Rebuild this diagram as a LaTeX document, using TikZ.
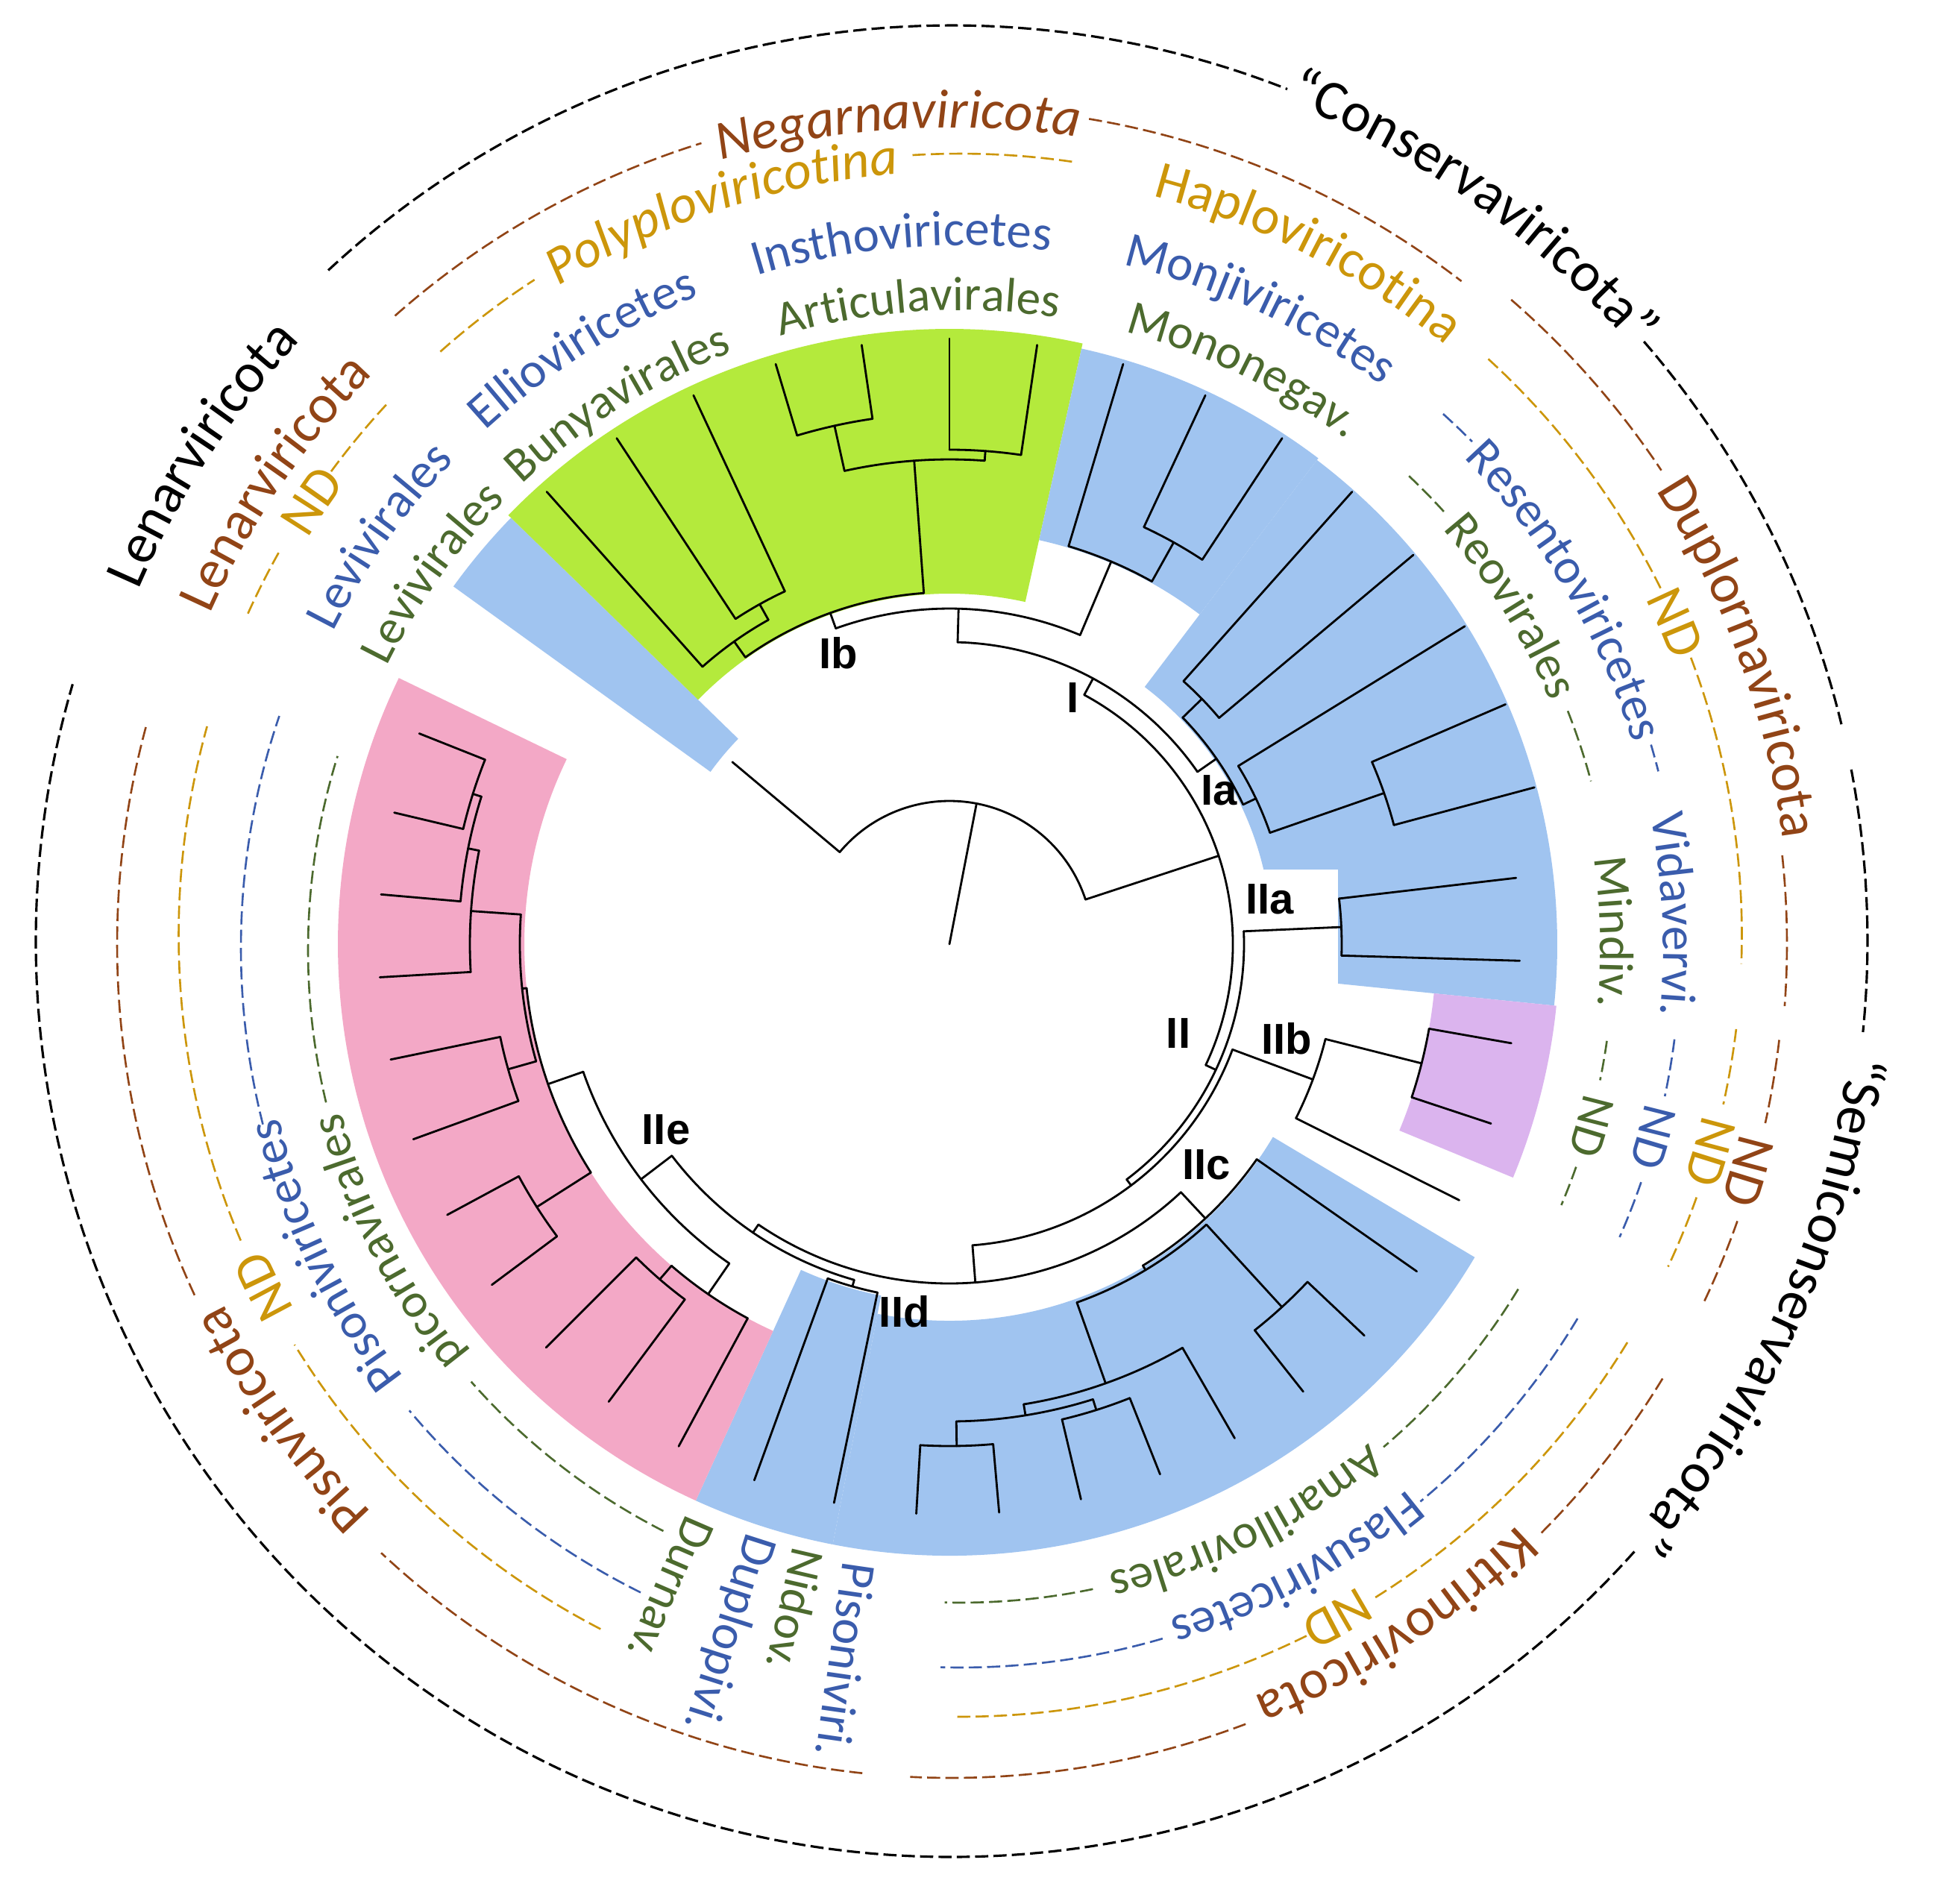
\documentclass[tikz,border=0pt]{standalone}
\usepackage{fontspec}
\setmainfont{Carlito}
\newfontfamily\cladefont{Liberation Sans}
\usetikzlibrary{decorations.text}

\definecolor{cgreen}{RGB}{180,234,60}
\definecolor{cblue}{RGB}{160,196,240}
\definecolor{cpink}{RGB}{243,168,198}
\definecolor{cpurple}{RGB}{219,180,238}
\definecolor{tbrown}{RGB}{145,68,22}
\definecolor{tgold}{RGB}{204,150,10}
\definecolor{tblue}{RGB}{58,92,172}
\definecolor{tgreen}{RGB}{76,106,46}

\newcommand{\fblack}{\fontsize{21.5}{24}\selectfont}
\newcommand{\fbrown}{\fontsize{21}{24}\selectfont}
\newcommand{\fgold}{\fontsize{20.5}{23}\selectfont}
\newcommand{\fblue}{\fontsize{19}{22}\selectfont}
\newcommand{\fgreen}{\fontsize{18.5}{21}\selectfont}

\newcommand{\brarc}[3]{\draw[branch] (#2:#1) arc[start angle=#2,end angle=#3,radius=#1];}
\newcommand{\brray}[3]{\draw[branch] (#1:#2) -- (#1:#3);}
\newcommand{\ringsector}[5]{\fill[#1] (#2:#4) arc[start angle=#2,end angle=#3,radius=#4] -- (#3:#5) arc[start angle=#3,end angle=#2,radius=#5] -- cycle;}
\newcommand{\ringseg}[4]{\draw[#1] (#3:#2) arc[start angle=#3,end angle=#4,radius=#2];}
\newcommand{\ringlabel}[5]{\path[decorate,decoration={text along path,text color=#1,text align=center,text={|#2|#5}}] ({#4+40}:#3) arc[start angle={#4+40},end angle={#4-40},radius=#3];}

\tikzset{
  branch/.style={line width=0.8pt,black,line cap=round},
  blackring/.style={line width=0.9pt,black,dash pattern=on 5pt off 2pt},
  brownring/.style={line width=0.75pt,tbrown,dash pattern=on 5pt off 2pt},
  goldring/.style={line width=0.75pt,tgold,dash pattern=on 5pt off 2pt},
  bluering/.style={line width=0.75pt,tblue,dash pattern=on 5pt off 2pt},
  greenring/.style={line width=0.75pt,tgreen,dash pattern=on 5pt off 2pt},
  clade/.style={font=\cladefont\bfseries\fontsize{16.5}{18}\selectfont,inner sep=0pt},
  radlab/.style={anchor=west,inner sep=0pt}
}

\begin{document}
\begin{tikzpicture}
\useasboundingbox (-12.73,-12.70) rectangle (13.55,12.66);
\fill[white] (-12.73,-12.70) rectangle (13.55,12.66);

% coloured clades
\ringsector{cblue}{144.2}{135.8}{3.95}{8.20}
\ringsector{cgreen}{135.8}{77.5}{4.70}{8.25}
\ringsector{cblue}{77.5}{52.8}{5.55}{8.18}
\ringsector{cblue}{52.8}{-5.8}{4.33}{8.15}
\ringsector{cpurple}{-5.8}{-22.5}{6.53}{8.18}
\ringsector{cblue}{-30.8}{-101}{5.05}{8.20}
\ringsector{cblue}{-101}{-114.5}{4.80}{8.20}
\ringsector{cpink}{-114.5}{-205.8}{5.70}{8.20}
\fill[white] (3.98,1.00) rectangle (5.21,-0.54);

% tree
\brray{79.08}{0}{1.92}
\brarc{1.92}{140}{18.17}
\brray{140}{1.92}{3.80}
\brray{18.17}{1.92}{3.80}
\brarc{3.80}{61.6}{-25.26}
\brray{61.6}{3.80}{4.05}
\brarc{4.05}{88.44}{34.79}
\brray{88.44}{4.05}{4.50}
\brarc{4.50}{109.79}{67.08}
\brray{109.79}{4.50}{4.72}
\brarc{4.72}{125.42}{94.17}
\brray{125.42}{4.72}{4.98}
\brarc{4.98}{131.67}{119.17}
\brray{131.67}{4.98}{8.12}
\brray{119.17}{4.98}{5.22}
\brarc{5.22}{123.33}{115}
\brray{123.33}{5.22}{8.12}
\brray{115}{5.22}{8.12}
\brray{94.17}{4.72}{6.50}
\brarc{6.50}{102.5}{85.83}
\brray{102.5}{6.50}{7.12}
\brarc{7.12}{106.67}{98.33}
\brray{106.67}{7.12}{8.12}
\brray{98.33}{7.12}{8.12}
\brray{85.83}{6.50}{6.63}
\brarc{6.63}{90}{81.67}
\brray{90}{6.63}{8.12}
\brray{81.67}{6.63}{8.12}
\brray{67.08}{4.50}{5.57}
\brarc{5.57}{73.33}{60.83}
\brray{73.33}{5.57}{8.12}
\brray{60.83}{5.57}{6.17}
\brarc{6.17}{65}{56.67}
\brray{65}{6.17}{8.12}
\brray{56.67}{6.17}{8.12}
\brray{34.79}{4.05}{4.36}
\brarc{4.36}{44.17}{25.42}
\brray{44.17}{4.36}{4.72}
\brarc{4.72}{48.33}{40}
\brray{48.33}{4.72}{8.12}
\brray{40}{4.72}{8.12}
\brray{25.42}{4.36}{4.55}
\brarc{4.55}{31.67}{19.17}
\brray{31.67}{4.55}{8.12}
\brray{19.17}{4.55}{6.17}
\brarc{6.17}{23.33}{15}
\brray{23.33}{6.17}{8.12}
\brray{15}{6.17}{8.12}
\brray{-25.26}{3.80}{3.95}
\brarc{3.95}{2.5}{-53.02}
\brray{2.5}{3.95}{5.26}
\brarc{5.26}{6.67}{-1.67}
\brray{6.67}{5.26}{7.65}
\brray{-1.67}{5.26}{7.65}
\brray{-53.02}{3.95}{4.05}
\brarc{4.05}{-20.42}{-85.62}
\brray{-20.42}{4.05}{5.20}
\brarc{5.20}{-14.17}{-26.67}
\brray{-14.17}{5.20}{6.53}
\brarc{6.53}{-10}{-18.33}
\brray{-10}{6.53}{7.65}
\brray{-18.33}{6.53}{7.65}
\brray{-26.67}{5.20}{7.65}
\brray{-85.62}{4.05}{4.55}
\brarc{4.55}{-46.98}{-124.26}
\brray{-46.98}{4.55}{5.03}
\brarc{5.03}{-35}{-58.96}
\brray{-35}{5.03}{7.65}
\brray{-58.96}{5.03}{5.10}
\brarc{5.10}{-47.5}{-70.42}
\brray{-47.5}{5.10}{6.60}
\brarc{6.60}{-43.33}{-51.67}
\brray{-43.33}{6.60}{7.65}
\brray{-51.67}{6.60}{7.65}
\brray{-70.42}{5.10}{6.25}
\brarc{6.25}{-60}{-80.83}
\brray{-60}{6.25}{7.65}
\brray{-80.83}{6.25}{6.40}
\brarc{6.40}{-72.5}{-89.17}
\brray{-72.5}{6.40}{6.55}
\brarc{6.55}{-68.33}{-76.67}
\brray{-68.33}{6.55}{7.65}
\brray{-76.67}{6.55}{7.65}
\brray{-89.17}{6.40}{6.73}
\brarc{6.73}{-85}{-93.33}
\brray{-85}{6.73}{7.65}
\brray{-93.33}{6.73}{7.65}
\brray{-124.26}{4.55}{4.68}
\brarc{4.68}{-105.83}{-142.68}
\brray{-105.83}{4.68}{4.77}
\brarc{4.77}{-101.67}{-110}
\brray{-101.67}{4.77}{7.65}
\brray{-110}{4.77}{7.65}
\brray{-142.68}{4.68}{5.20}
\brarc{5.20}{-124.58}{-160.78}
\brray{-124.58}{5.20}{5.70}
\brarc{5.70}{-118.33}{-130.83}
\brray{-118.33}{5.70}{7.65}
\brray{-130.83}{5.70}{5.94}
\brarc{5.94}{-126.67}{-135}
\brray{-126.67}{5.94}{7.65}
\brray{-135}{5.94}{7.65}
\brray{-160.78}{5.20}{5.70}
\brarc{5.70}{-147.5}{-174.06}
\brray{-147.5}{5.70}{6.56}
\brarc{6.56}{-143.33}{-151.67}
\brray{-143.33}{6.56}{7.65}
\brray{-151.67}{6.56}{7.65}
\brray{-174.06}{5.70}{5.76}
\brarc{5.76}{-164.17}{-183.96}
\brray{-164.17}{5.76}{6.15}
\brarc{6.15}{-160}{-168.33}
\brray{-160}{6.15}{7.65}
\brray{-168.33}{6.15}{7.65}
\brray{-183.96}{5.76}{6.43}
\brarc{6.43}{-176.67}{-191.25}
\brray{-176.67}{6.43}{7.65}
\brray{-191.25}{6.43}{6.58}
\brarc{6.58}{-185}{-197.5}
\brray{-185}{6.58}{7.65}
\brray{-197.5}{6.58}{6.70}
\brarc{6.70}{-193.33}{-201.67}
\brray{-193.33}{6.70}{7.65}
\brray{-201.67}{6.70}{7.65}

% clade labels
\node[clade] (lIb) at (-1.486,3.90) {Ib};
\node[clade] (lI) at (1.654,3.30) {I};
\node[clade] (lIa) at (3.615,2.065) {Ia};
\node[clade] (lIIa) at (4.294,0.602) {IIa};
\node[clade] (lII) at (3.07,-1.195) {II};
\node[clade] (lIIb) at (4.52,-1.265) {IIb};
\node[clade] (lIIc) at (3.444,-2.957) {IIc};
\node[clade] (lIId) at (-0.602,-4.925) {IId};
\node[clade] (lIIe) at (-3.80,-2.486) {IIe};

% orders
\begin{scope}[shift={(0.15,-0.08)}]
\ringlabel{tgreen}{\fgreen}{8.58}{144.5}{Levivirales}
\ringlabel{tgreen}{\fgreen}{8.58}{122.1}{Bunyavirales}
\ringlabel{tgreen}{\fgreen}{8.58}{93.8}{Articulavirales}
\ringlabel{tgreen}{\fgreen}{8.58}{64}{Mononegav.}
\ringseg{greenring}{8.75}{46.6}{42.2}
\ringlabel{tgreen}{\fgreen}{8.58}{32}{Reovirales}
\ringseg{greenring}{8.75}{21.5}{15}
\ringlabel{tgreen}{\fgreen}{8.58}{1.6}{Mindiv.}
\ringseg{greenring}{8.75}{-8}{-11.5}
\ringlabel{tgreen}{\fgreen}{8.58}{-15.6}{ND}
\ringseg{greenring}{8.75}{-19.4}{-23}
\ringseg{greenring}{8.75}{-31.3}{-49.6}
\ringlabel{tgreen}{\fgreen}{8.58}{-63.5}{Amarillovirales}
\ringseg{greenring}{8.75}{-78.3}{-91.4}
\ringseg{greenring}{8.75}{-117.1}{-138.6}
\ringlabel{tgreen}{\fgreen}{8.58}{-153}{picornavirales}
\ringseg{greenring}{8.75}{-166.5}{-197.3}
\end{scope}
\node[radlab,rotate=-113.4,text=tgreen,font=\fgreen] (durnav) at (-113.4:8.40) {Durnav.};
\node[radlab,rotate=-103,text=tgreen,font=\fgreen] (nidov) at (-103:8.32) {Nidov.};

% classes
\begin{scope}[shift={(0.15,-0.05)}]
\ringlabel{tblue}{\fblue}{9.42}{144.7}{Levivirales}
\ringlabel{tblue}{\fblue}{9.42}{122.2}{Ellioviricetes}
\ringlabel{tblue}{\fblue}{9.42}{94.8}{Insthoviricetes}
\ringlabel{tblue}{\fblue}{9.42}{64.9}{Monjiviricetes}
\ringseg{bluering}{9.65}{47.9}{44.7}
\ringlabel{tblue}{\fblue}{9.42}{30.6}{Resentoviricetes}
\ringseg{bluering}{9.65}{16.4}{14.2}
\ringlabel{tblue}{\fblue}{9.42}{2.7}{Vidavervi.}
\ringseg{bluering}{9.65}{-7.3}{-11.9}
\ringlabel{tblue}{\fblue}{9.42}{-15.3}{ND}
\ringseg{bluering}{9.65}{-19}{-23.7}
\ringseg{bluering}{9.65}{-31}{-50.3}
\ringlabel{tblue}{\fblue}{9.42}{-61.6}{Flasuviricetes}
\ringseg{bluering}{9.65}{-73.7}{-91.6}
\ringseg{bluering}{9.65}{-116.4}{-140}
\ringlabel{tblue}{\fblue}{9.42}{-154.2}{Pisoniviricetes}
\ringseg{bluering}{9.65}{-165.8}{-198.8}
\end{scope}
\node[radlab,rotate=-107.8,text=tblue,font=\fblue] (duplopivi) at (-107.8:8.32) {Duplopivi.};
\node[radlab,rotate=-98.2,text=tblue,font=\fblue] (pisoniviri) at (-98.2:8.38) {Pisoniviri.};

% subphyla
\begin{scope}[shift={(0.145,0.12)}]
\ringseg{goldring}{10.48}{155.7}{150.5}
\ringlabel{tgold}{\fgold}{10.24}{146.2}{ND}
\ringseg{goldring}{10.48}{143.6}{137.1}
\ringseg{goldring}{10.48}{131.7}{123}
\ringlabel{tgold}{\fgold\itshape}{10.24}{108.2}{Polyploviricotina}
\ringseg{goldring}{10.48}{93.5}{81.4}
\ringlabel{tgold}{\fgold}{10.24}{63}{Haploviricotina}
\ringseg{goldring}{10.48}{47.5}{26.05}
\ringlabel{tgold}{\fgold}{10.24}{23.6}{ND}
\ringseg{goldring}{10.48}{20.8}{-2.1}
\ringseg{goldring}{10.48}{-6.9}{-12.5}
\ringlabel{tgold}{\fgold}{10.24}{-16.1}{ND}
\ringseg{goldring}{10.48}{-19.6}{-25.1}
\ringseg{goldring}{10.48}{-31.4}{-58}
\ringlabel{tgold}{\fgold}{10.24}{-61.1}{ND}
\ringseg{goldring}{10.48}{-63.7}{-90.6}
\ringseg{goldring}{10.48}{-117.4}{-148.4}
\ringlabel{tgold}{\fgold}{10.24}{-153.2}{ND}
\ringseg{goldring}{10.48}{-157}{-195.5}
\end{scope}

% phyla
\begin{scope}[shift={(0.02,0)}]
\ringlabel{tbrown}{\fbrown}{10.88}{145.7}{Lenarviricota}
\ringseg{brownring}{11.25}{131.5}{107.3}
\ringlabel{tbrown}{\fbrown\itshape}{10.95}{93.7}{Negarnaviricota}
\ringseg{brownring}{11.22}{80.5}{52.4}
\ringseg{brownring}{11.45}{49}{33.7}
\ringlabel{tbrown}{\fbrown}{11.24}{20}{Duplornaviricota}
\ringseg{brownring}{11.21}{6.1}{-4.25}
\ringseg{brownring}{11.18}{-6.6}{-12.4}
\ringlabel{tbrown}{\fbrown}{10.88}{-15.9}{ND}
\ringseg{brownring}{11.18}{-19.4}{-25.4}
\ringseg{brownring}{11.18}{-31.4}{-45}
\ringlabel{tbrown}{\fbrown}{10.88}{-56.9}{Kitrinoviricota}
\ringseg{brownring}{11.18}{-69.3}{-92.8}
\ringseg{brownring}{11.18}{-96.1}{-133.1}
\ringlabel{tbrown}{\fbrown}{10.88}{-144.6}{Pisuviricota}
\ringseg{brownring}{11.18}{-155.1}{-195.4}
\end{scope}

% outer groups
\begin{scope}[shift={(0.03,0.04)}]
\ringlabel{black}{\fblack}{11.88}{147}{Lenarviricota}
\ringseg{blackring}{12.28}{132.9}{68.5}
\ringlabel{black}{\fblack}{12.12}{54.6}{“Conservaviricota”}
\ringseg{blackring}{12.28}{40.9}{13.7}
\ringseg{blackring}{12.28}{10.8}{-5.7}
\ringlabel{black}{\fblack}{12.12}{-24.2}{“Semiconservaviricota”}
\ringseg{blackring}{12.28}{-41.8}{-196.3}
\end{scope}
\end{tikzpicture}
\end{document}
